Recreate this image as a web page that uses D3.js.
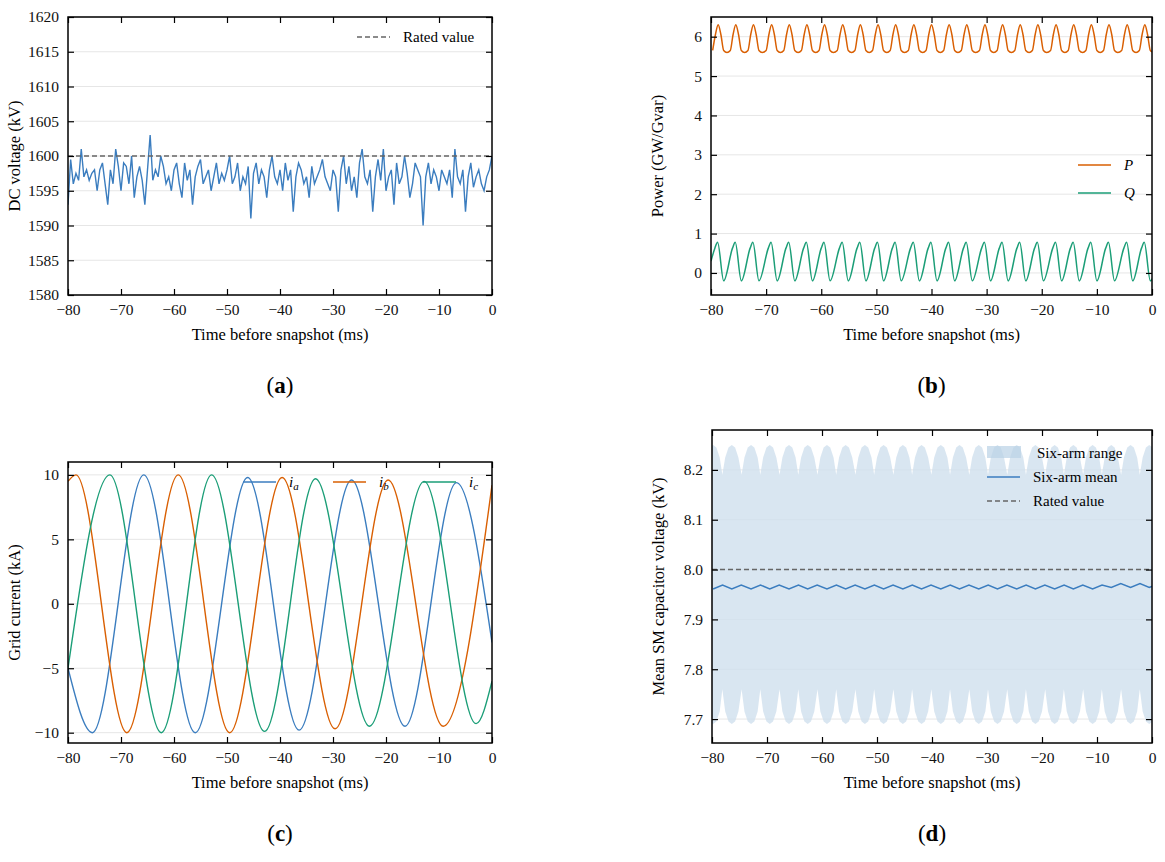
<!DOCTYPE html>
<html><head><meta charset="utf-8">
<script src="https://cdn.jsdelivr.net/npm/d3@7"></script>
<style>body{margin:0;background:#fff}text{font-family:"Liberation Serif","DejaVu Serif",serif}</style>
</head><body><svg id="c" width="1165" height="862"></svg>
<script>
// ---------- DATA ----------
const xTicks=[-80,-70,-60,-50,-40,-30,-20,-10,0];
// (a) DC voltage, samples every 0.5 ms from -80 to 0
const vdc=[1593,1599.5,1596,1597.5,1596.5,1601,1597,1598,1596.5,1597.5,1598,1595,1598,1599,1596,1593,1598,1596,1601,1598.5,1595,1599,1598.5,1596,1600,1594,1597,1598.5,1596.5,1593,1598,1603,1596.5,1598,1597,1600,1598.5,1596,1597,1595,1598,1599,1596,1594,1599,1596.5,1598,1593,1597,1598.5,1599.5,1596,1597,1598,1595,1597,1599,1596,1597.5,1596.5,1598,1600,1596,1597,1599,1595,1597,1596,1598.5,1591,1597.5,1599,1596,1598,1597,1594,1598,1600,1597,1596,1598,1595,1599,1596.5,1598,1592,1597,1599,1598,1596,1597,1594,1598.5,1596,1597,1598,1599.5,1597,1596,1595,1598,1597,1592,1598,1600,1596,1598.5,1595,1597,1594,1599,1601,1597,1596,1598,1592,1597,1599.5,1596.5,1601,1595,1597,1598,1593,1599,1596,1597,1600,1597.5,1594,1596,1599,1598,1597,1590,1597,1599,1596,1598,1597,1595,1598,1597,1596,1598,1594,1601,1597,1596,1598,1592,1597,1599,1595.5,1597,1598,1596,1595,1597,1598,1600];
const ratedV=1600;
// (b) power: peak times (ms) of oscillation
const pPeakT=[-78.7,-75.5,-72.3,-69.0,-65.8,-62.6,-59.4,-56.1,-52.9,-49.7,-46.5,-43.2,-40.0,-36.8,-33.6,-30.3,-27.1,-23.9,-20.7,-17.4,-14.2,-11.0,-7.8,-4.5,-1.3];
const pMax=6.3, pMin=5.6, qMax=0.78, qMin=-0.2;
// (c) grid currents: extrema [t, value]
const ia=[[-80,-5],[-75.4,-10],[-65.7,10],[-56.0,-10],[-46.1,9.8],[-36.4,-9.8],[-26.5,9.6],[-16.4,-9.5],[-6.7,9.4],[0,-3]];
const ib=[[-80,9.5],[-78.5,10],[-68.9,-10],[-59.2,10],[-49.5,-10],[-39.6,9.8],[-29.6,-9.7],[-19.6,9.6],[-9.2,-9.5],[0,9.2]];
const ic=[[-80,-5],[-72.1,10],[-62.4,-10],[-52.9,10],[-42.9,-9.9],[-33.3,9.7],[-23.1,-9.5],[-12.8,9.5],[-3.0,-9.3],[0,-6]];
// (d) SM capacitor voltage
const dLobeT=[-79.8,-76.4,-72.9,-69.5,-66.0,-62.6,-59.1,-55.7,-52.2,-48.8,-45.3,-41.9,-38.4,-35.0,-31.5,-28.1,-24.6,-21.2,-17.7,-14.3,-10.8,-7.4,-3.9,-0.5];
const upLo=8.19, upHi=8.25, lowHi=7.76, lowLo=7.69;
const meanHi=7.969, meanLo=7.961, ratedSM=8.0;

// ---------- HELPERS ----------
const svg=d3.select("#c");
const C={blue:"#3b7dbf",orange:"#d95f02",green:"#1b9e77",grid:"#e6e6e6",dash:"#666"};
function panel(x0,x1,y0,y1,yDom,yTicks,yLabel,letter,fmt){
  const g=svg.append("g");
  const x=d3.scaleLinear().domain([-80,0]).range([x0,x1]);
  const y=d3.scaleLinear().domain(yDom).range([y1,y0]);
  g.append("clipPath").attr("id","cp"+letter).append("rect").attr("x",x0).attr("y",y0).attr("width",x1-x0).attr("height",y1-y0);
  g.selectAll(".gl").data(yTicks).join("line").attr("x1",x0).attr("x2",x1).attr("y1",d=>y(d)).attr("y2",d=>y(d)).attr("stroke",C.grid);
  const plot=g.append("g").attr("clip-path",`url(#cp${letter})`);
  const ax=(gen,tr,lab)=>{const a=g.append("g").attr("transform",tr).call(gen);a.select(".domain").remove();a.selectAll("line").attr("stroke","#000").attr("stroke-width",1.2);a.selectAll("text").attr("font-size",15.5).attr("fill","#111");if(!lab)a.selectAll("text").remove();return a;};
  const fx=d=>d<0?"\u2212"+(-d):d;
  ax(d3.axisBottom(x).tickValues(xTicks).tickSize(-6).tickPadding(9).tickFormat(fx),`translate(0,${y1})`,true);
  ax(d3.axisTop(x).tickValues(xTicks).tickSize(-6),`translate(0,${y0})`,false);
  ax(d3.axisLeft(y).tickValues(yTicks).tickSize(-6).tickPadding(9).tickFormat(fmt||(d=>d<0?"\u2212"+(-d):d)),`translate(${x0},0)`,true);
  ax(d3.axisRight(y).tickValues(yTicks).tickSize(-6),`translate(${x1},0)`,false);
  g.append("text").attr("x",(x0+x1)/2).attr("y",y1+45).attr("text-anchor","middle").attr("font-size",16.5).text("Time before snapshot (ms)");
  g.append("text").attr("transform",`translate(${x0-48},${(y0+y1)/2}) rotate(-90)`).attr("text-anchor","middle").attr("font-size",16.5).text(yLabel);
  const t=g.append("text").attr("x",(x0+x1)/2).attr("y",y1+98).attr("text-anchor","middle").attr("font-size",23).attr("font-family","'DejaVu Serif',serif");
  t.append("tspan").text("(");t.append("tspan").attr("font-weight","bold").text(letter);t.append("tspan").text(")");
  return {g,plot,x,y,frame:()=>g.append("rect").attr("x",x0).attr("y",y0).attr("width",x1-x0).attr("height",y1-y0).attr("fill","none").attr("stroke","#000").attr("stroke-width",1.5)};
}
function legLine(g,x,y,color,dash,label,italic,sub){
  g.append("line").attr("x1",x).attr("x2",x+33).attr("y1",y).attr("y2",y).attr("stroke",color).attr("stroke-width",1.5).attr("stroke-dasharray",dash||null);
  const t=g.append("text").attr("x",x+46).attr("y",y+5).attr("font-size",15);
  if(italic){t.append("tspan").attr("font-style","italic").text(label);if(sub)t.append("tspan").attr("font-style","italic").attr("font-size",11).attr("dy",3).text(sub);}
  else t.text(label);
}

// ---------- (a) ----------
{
 const p=panel(68,492,17,295,[1580,1620],d3.range(1580,1621,5),"DC voltage (kV)","a");
 p.plot.append("path").datum(vdc).attr("fill","none").attr("stroke",C.blue).attr("stroke-width",1.4)
  .attr("d",d3.line().x((d,i)=>p.x(-80+i*0.5)).y(d=>p.y(d)));
 p.plot.append("line").attr("x1",p.x(-80)).attr("x2",p.x(0)).attr("y1",p.y(ratedV)).attr("y2",p.y(ratedV)).attr("stroke",C.dash).attr("stroke-width",1.5).attr("stroke-dasharray","5,3");
 p.frame();
 legLine(p.g,357,37,C.dash,"5,3","Rated value");
}
// ---------- (b) ----------
{
 const p=panel(711,1152,17,295,[-0.56,6.5],[0,1,2,3,4,5,6],"Power (GW/Gvar)","b");
 const P=[],Q=[[-80,0.3]];
 pPeakT.forEach((t,i)=>{
   P.push([t-1.0,pMin+0.05],[t-0.5,(pMax+pMin)/2+0.1],[t,pMax],[t+0.5,(pMax+pMin)/2+0.1],[t+1.0,pMin+0.05],[t+1.6,pMin]);
   Q.push([t-0.6,qMax-0.15],[t-0.1,qMax],[t+1.0,qMin]);
 });
 Q.push([0.5,0.0]);
 const ln=d3.line().curve(d3.curveMonotoneX).x(d=>p.x(d[0])).y(d=>p.y(d[1]));
 p.plot.append("path").datum(P).attr("fill","none").attr("stroke",C.orange).attr("stroke-width",1.5).attr("d",ln);
 p.plot.append("path").datum(Q).attr("fill","none").attr("stroke",C.green).attr("stroke-width",1.5).attr("d",ln);
 p.frame();
 legLine(p.g,1078,165,C.orange,null,"P",true);
 legLine(p.g,1078,193,C.green,null,"Q",true);
}
// ---------- (c) ----------
{
 const p=panel(68,492,462,743,[-10.8,11],[-10,-5,0,5,10],"Grid current (kA)","c");
 const ln=d3.line().curve(d3.curveMonotoneX).x(d=>p.x(d[0])).y(d=>p.y(d[1]));
 [[ia,C.blue],[ib,C.orange],[ic,C.green]].forEach(([d,c])=>p.plot.append("path").datum(d).attr("fill","none").attr("stroke",c).attr("stroke-width",1.4).attr("d",ln));
 p.frame();
 legLine(p.g,243,482,C.blue,null,"i","it","a");
 legLine(p.g,333,482,C.orange,null,"i","it","b");
 legLine(p.g,423,482,C.green,null,"i","it","c");
}
// ---------- (d) ----------
{
 const p=panel(712,1152,430,743,[7.652,8.28],[7.7,7.8,7.9,8.0,8.1,8.2],"Mean SM capacitor voltage (kV)","d",d3.format(".1f"));
 const up=[],lo=[],mn=[];
 dLobeT.forEach((t,i)=>{
   up.push([t-1.72,upLo],[t-1.2,upHi-0.025],[t-0.6,upHi-0.005],[t,upHi],[t+0.6,upHi-0.005],[t+1.2,upHi-0.025]);
   lo.push([t-1.72,lowHi],[t-1.2,lowLo+0.025],[t-0.6,lowLo+0.005],[t,lowLo],[t+0.6,lowLo+0.005],[t+1.2,lowLo+0.025]);
   mn.push([t,meanLo+(i>20?0.003:0)],[t+1.72,meanHi+(i>20?0.003:0)]);
 });
 up.push([1,upLo]);lo.push([1,lowHi]);
 p.plot.append("path").datum(up.map((d,i)=>[d[0],d[1],lo[i][1]])).attr("fill","#cfe0ee").attr("opacity",0.8)
   .attr("d",d3.area().curve(d3.curveLinear).x(d=>p.x(d[0])).y0(d=>p.y(d[2])).y1(d=>p.y(d[1])));
 p.plot.append("path").datum(mn).attr("fill","none").attr("stroke",C.blue).attr("stroke-width",1.5).attr("d",d3.line().x(d=>p.x(d[0])).y(d=>p.y(d[1])));
 p.plot.append("line").attr("x1",p.x(-80)).attr("x2",p.x(0)).attr("y1",p.y(ratedSM)).attr("y2",p.y(ratedSM)).attr("stroke",C.dash).attr("stroke-width",1.5).attr("stroke-dasharray","5,3");
 p.frame();
 p.g.append("rect").attr("x",987).attr("y",446).attr("width",34).attr("height",12).attr("fill","#b9d2e6").attr("opacity",0.7);
 p.g.append("text").attr("x",1037).attr("y",458).attr("font-size",15).text("Six-arm range");
 legLine(p.g,987,477,C.blue,null,"Six-arm mean");
 legLine(p.g,987,501,C.dash,"5,3","Rated value");
}
</script></body></html>
